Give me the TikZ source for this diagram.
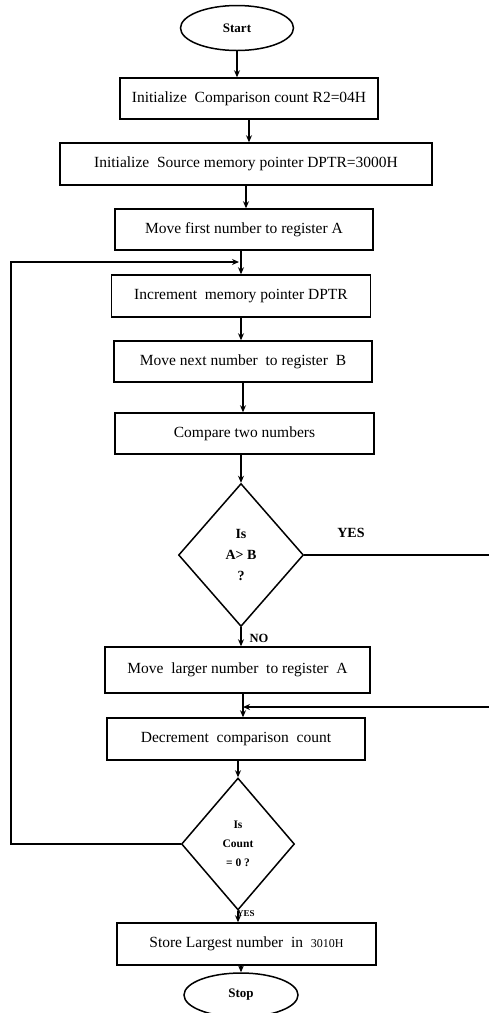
\documentclass[tikz,border=0pt]{standalone}
\usepackage{fontspec}
\setmainfont{Liberation Serif}
\usetikzlibrary{shapes.geometric,arrows.meta}

\tikzset{
  flowbox/.style={draw, line width=1.5pt, rectangle, inner sep=0pt, font=\fontsize{15.5}{18}\selectfont},
  terminal/.style={draw, line width=1.5pt, ellipse, inner sep=0pt, font=\bfseries\fontsize{13}{15}\selectfont},
  decision/.style={draw, line width=1.5pt, diamond, inner sep=0pt, align=center, font=\bfseries\fontsize{14}{21}\selectfont},
  flowline/.style={line width=1.6pt, -{Stealth[length=7pt,width=6pt]}},
  tag/.style={inner sep=0pt, font=\bfseries\fontsize{12.5}{14}\selectfont},
}

\begin{document}
\begin{tikzpicture}[x=1pt,y=1pt,yscale=-1]
    \useasboundingbox (0,0) rectangle (488,1013);

    %Shape: Ellipse [start]
    \node [terminal, minimum width=113pt, minimum height=45pt] (start) at (237,28) {Start};
    %Shape: Rectangle [steps]
    \node [flowbox, minimum width=258pt, minimum height=41pt] (init) at (249,98.5) {Initialize\ \ Comparison\ count\ R2=04H};
    \node [flowbox, minimum width=372pt, minimum height=42pt] (src) at (246,164) {Initialize\ \ Source memory\ pointer\ DPTR=3000H};
    \node [flowbox, minimum width=258pt, minimum height=41pt] (first) at (244,229.5) {Move first\ number\ to register\ A};
    \node [flowbox, minimum width=259pt, minimum height=42pt] (incr) at (241,296) {Increment\ \ memory\ pointer\ DPTR};
    \node [flowbox, minimum width=258pt, minimum height=41pt] (next) at (243,361.5) {Move next\ number\ \ to register\ \ B};
    \node [flowbox, minimum width=259pt, minimum height=41pt] (cmp) at (244.5,433.5) {Compare two numbers};
    %Shape: Diamond [A > B]
    \node [decision, minimum width=125pt, minimum height=143pt] (isgt) at (241,555) {Is\\A> B\\?};
    \node [flowbox, minimum width=265pt, minimum height=46pt] (larger) at (237.5,670) {Move\ \ larger number\ \ to register\ \ A};
    \node [flowbox, minimum width=258pt, minimum height=42pt] (decr) at (236,739) {Decrement\ \ comparison\ \ count};
    %Shape: Diamond [count = 0]
    \node [decision, minimum width=113pt, minimum height=132pt, font=\bfseries\fontsize{11.5}{19}\selectfont] (iszero) at (238,844) {Is\\Count\\= 0 ?};
    \node [flowbox, minimum width=259pt, minimum height=42pt] (store) at (246.5,944) {Store Largest\ number\ \ in\ \ {\fontsize{12}{14}\selectfont 3010H}};
    \node [terminal, minimum width=114pt, minimum height=44pt] (stop) at (241,995) {Stop};

    %Junctions and rails
    \coordinate (loopin) at (239,262);
    \coordinate (leftrail) at (11,262);
    \coordinate (yesin) at (243,707);
    \coordinate (yesrail) at (500,707);

    %Straight Lines
    \draw [flowline] (start.south) -- (start.south |- init.north);
    \draw [flowline] (init.south) -- (init.south |- src.north);
    \draw [flowline] (src.south) -- (src.south |- first.north);
    \draw [flowline] (first.south -| incr.north) -- (incr.north);
    \draw [flowline] (incr.south) -- (incr.south |- next.north);
    \draw [flowline] (next.south) -- (next.south |- cmp.north);
    \draw [flowline] (cmp.south -| isgt.north) -- (isgt.north);
    \draw [flowline] (isgt.south) -- (isgt.south |- larger.north);
    \draw [flowline] (larger.south -| yesin) -- (yesin |- decr.north);
    \draw [flowline] (decr.south -| iszero.north) -- (iszero.north);
    \draw [flowline] (iszero.south) -- (iszero.south |- store.north);
    \draw [flowline] (store.south -| stop.north) -- (stop.north);
    %Loop back and YES branch
    \draw [flowline] (iszero.west) -| (leftrail) -- (loopin);
    \draw [flowline] (isgt.east) -| (yesrail) -- (yesin);

    % Text Node
    \node [tag, font=\bfseries\fontsize{14}{16}\selectfont] (yes) at (351,533) {YES};
    \node [tag] (no) at (259,638) {NO};
    \node [tag, font=\bfseries\fontsize{9}{11}\selectfont] (yesz) at (246,914) {YES};
\end{tikzpicture}
\end{document}
